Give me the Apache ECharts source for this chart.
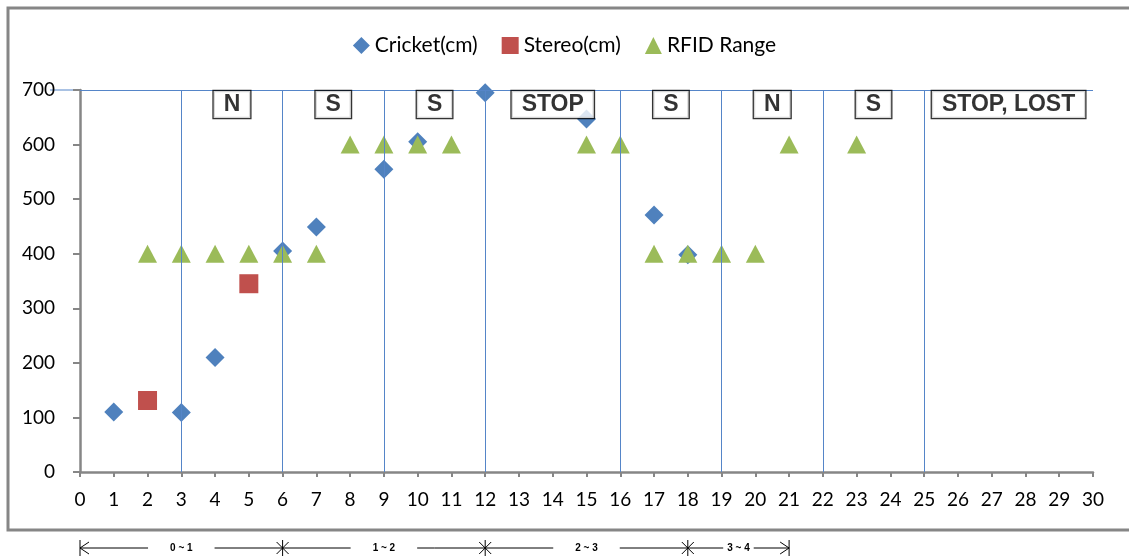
<!DOCTYPE html>
<html>
<head>
<meta charset="utf-8">
<script src="https://cdn.jsdelivr.net/npm/echarts@6/dist/echarts.min.js"></script>
<style>
  html, body { margin: 0; padding: 0; background: #fff; }
  #chart { width: 1129px; height: 559px; }
</style>
</head>
<body>
<div id="chart"></div>
<script>
// Measured positions (x = sample index, y = distance in cm)
const cricketX = [1, 3, 4, 6, 7, 9, 10, 12, 15, 17, 18];
const cricketY = [110, 109, 210, 405, 449, 555, 605, 695, 647, 471, 398];
const stereoX = [2, 5];
const stereoY = [131, 345];
const rfidX = [2, 3, 4, 5, 6, 7, 8, 9, 10, 11, 15, 16, 17, 18, 19, 20, 21, 23];
const rfidY = [400, 400, 400, 400, 400, 400, 600, 600, 600, 600, 600, 600, 400, 400, 400, 400, 600, 600];

// Heading zones: boundaries on the x axis and the heading shown in each zone
const zoneBounds = [3, 6, 9, 12, 16, 19, 22, 25, 30];
const zoneNames = ['N', 'S', 'S', 'STOP', 'S', 'N', 'S', 'STOP, LOST'];

// Segment ranges drawn under the axis
const spanBounds = [0, 6, 12, 18, 21];
const spanNames = ['0 ~ 1', '1 ~ 2', '2 ~ 3', '3 ~ 4'];

const yMax = 700;
const axisGray = '#868686';
const lineBlue = '#4F81BD';
const labelFont = 'Lato, "Open Sans", sans-serif';

const zip = (xs, ys) => xs.map((x, i) => [x, ys[i]]);
const zoneCenters = zoneNames.map((n, i) => ({
  name: n,
  value: [(zoneBounds[i] + zoneBounds[i + 1]) / 2, yMax]
}));

const chart = echarts.init(document.getElementById('chart'), null, { renderer: 'canvas' });

const option = {
  animation: false,
  backgroundColor: '#fff',
  grid: { left: 80, right: 36, top: 90, bottom: 87 },
  legend: {
    data: ['Cricket(cm)', 'Stereo(cm)', 'RFID Range'],
    top: 30,
    left: 'center',
    itemWidth: 17,
    itemHeight: 17,
    itemGap: 24,
    textStyle: { fontFamily: labelFont, fontSize: 21, color: '#000' }
  },
  xAxis: {
    type: 'value',
    min: 0,
    max: 30,
    interval: 1,
    axisLine: { lineStyle: { color: axisGray, width: 2.5 } },
    axisTick: { length: 5, lineStyle: { color: axisGray, width: 2 } },
    splitLine: { show: false },
    axisLabel: { fontFamily: labelFont, fontSize: 19, color: '#000', margin: 18 }
  },
  yAxis: {
    type: 'value',
    min: 0,
    max: yMax,
    interval: 100,
    axisLine: { show: true, lineStyle: { color: axisGray, width: 2.5 } },
    axisTick: { show: true, length: 7, lineStyle: { color: axisGray, width: 2 } },
    splitLine: { show: false },
    axisLabel: { fontFamily: labelFont, fontSize: 19, color: '#000', margin: 25 }
  },
  series: [
    {
      name: 'Cricket(cm)',
      type: 'scatter',
      symbol: 'diamond',
      symbolSize: 19,
      clip: false,
      itemStyle: { color: lineBlue, opacity: 1 },
      data: zip(cricketX, cricketY),
      markLine: {
        silent: true,
        symbol: 'none',
        label: { show: false },
        lineStyle: { color: '#5585C8', width: 1, type: 'solid' },
        data: zoneBounds.slice(0, -1).map(v => ({ xAxis: v })).concat([{ yAxis: yMax }])
      }
    },
    {
      name: 'Stereo(cm)',
      type: 'scatter',
      symbol: 'rect',
      symbolSize: 19,
      clip: false,
      itemStyle: { color: '#C0504D', opacity: 1 },
      data: zip(stereoX, stereoY)
    },
    {
      name: 'RFID Range',
      type: 'scatter',
      symbol: 'triangle',
      symbolSize: [19, 18],
      clip: false,
      itemStyle: { color: '#9BBB59', opacity: 1 },
      data: zip(rfidX, rfidY)
    },
    {
      name: 'zones',
      type: 'scatter',
      symbolSize: 0,
      clip: false,
      silent: true,
      z: 10,
      data: zoneCenters,
      label: {
        show: true,
        position: 'bottom',
        distance: 1,
        formatter: p => p.name,
        fontFamily: '"Liberation Sans", Arial, sans-serif',
        fontWeight: 'bold',
        fontSize: 23,
        lineHeight: 24,
        color: '#000',
        backgroundColor: '#fff',
        borderColor: '#000',
        borderWidth: 1.3,
        padding: [2, 10, 1, 10]
      }
    }
  ]
};

chart.setOption(option);

// Frame, the left stub of the top reference line, and the range arrows under the axis
function px(x, y) { return chart.convertToPixel({ gridIndex: 0 }, [x, y]); }

const graphics = [];
graphics.push({
  type: 'rect',
  shape: { x: 8, y: 8, width: 1200, height: 522 },
  style: { fill: 'none', stroke: axisGray, lineWidth: 3 },
  silent: true
});
const topY = px(0, yMax)[1];
graphics.push({
  type: 'line',
  shape: { x1: 50, y1: topY, x2: px(0, yMax)[0], y2: topY },
  style: { stroke: '#5585C8', lineWidth: 1 },
  silent: true
});

const ay = 548;
const ink = { stroke: '#000', lineWidth: 1, fill: 'none' };
const bx = spanBounds.map(b => px(b, 0)[0]);
graphics.push({ type: 'line', shape: { x1: bx[0], y1: ay, x2: bx[bx.length - 1], y2: ay }, style: ink });
bx.forEach((x, i) => {
  graphics.push({ type: 'line', shape: { x1: x, y1: ay - 8, x2: x, y2: ay + 8 }, style: ink });
  if (i === 0) {
    graphics.push({ type: 'polyline', shape: { points: [[x + 9, ay - 6], [x, ay], [x + 9, ay + 6]] }, style: ink });
  } else if (i === bx.length - 1) {
    graphics.push({ type: 'polyline', shape: { points: [[x - 9, ay - 6], [x, ay], [x - 9, ay + 6]] }, style: ink });
  } else {
    graphics.push({ type: 'line', shape: { x1: x - 6, y1: ay - 6, x2: x + 6, y2: ay + 6 }, style: ink });
    graphics.push({ type: 'line', shape: { x1: x - 6, y1: ay + 6, x2: x + 6, y2: ay - 6 }, style: ink });
  }
});
spanNames.forEach((name, i) => {
  const segLen = bx[i + 1] - bx[i];
  const gap = segLen > 150 ? 22 : 4;
  graphics.push({
    type: 'text',
    x: (bx[i] + bx[i + 1]) / 2,
    y: ay,
    silent: true,
    style: {
      text: name,
      fontFamily: '"Liberation Sans", Arial, sans-serif',
      fontWeight: 'bold',
      fontSize: 10,
      fill: '#000',
      align: 'center',
      verticalAlign: 'middle',
      backgroundColor: '#fff',
      padding: [0, gap, 0, gap]
    }
  });
});

chart.setOption({ graphic: graphics });
</script>
</body>
</html>
